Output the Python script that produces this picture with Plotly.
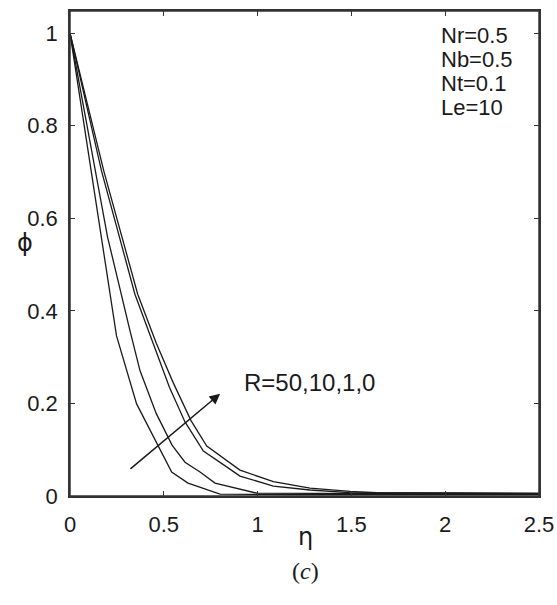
import plotly.graph_objects as go

# ---- data ----
eta_R50 = [0.0, 0.248, 0.355, 0.542, 0.629, 0.80, 1.2, 2.5]
phi_R50 = [1.0, 0.346, 0.199, 0.052, 0.028, 0.004, 0.003, 0.003]

eta_R10 = [0.0, 0.2, 0.32, 0.373, 0.46, 0.544, 0.613, 0.693, 0.773, 0.997, 2.5]
phi_R10 = [1.0, 0.56, 0.357, 0.271, 0.178, 0.110, 0.073, 0.052, 0.028, 0.006, 0.004]

eta_R1 = [0.0, 0.169, 0.346, 0.45, 0.53, 0.613, 0.711, 0.835, 0.906, 1.084, 1.279, 1.49, 2.5]
phi_R1 = [1.0, 0.701, 0.436, 0.32, 0.235, 0.160, 0.097, 0.063, 0.043, 0.0215, 0.013, 0.0075, 0.005]

eta_R0 = [0.0, 0.181, 0.361, 0.46, 0.55, 0.645, 0.729, 0.853, 0.906, 1.084, 1.279, 1.493, 1.635, 2.5]
phi_R0 = [1.0, 0.701, 0.436, 0.33, 0.245, 0.163, 0.108, 0.071, 0.056, 0.031, 0.017, 0.010, 0.007, 0.006]

x_ticks = [0, 0.5, 1, 1.5, 2, 2.5]
x_tick_labels = ["0", "0.5", "1", "1.5", "2", "2.5"]
y_ticks = [0, 0.2, 0.4, 0.6, 0.8, 1]
y_tick_labels = ["0", "0.2", "0.4", "0.6", "0.8", "1"]

param_lines = ["Nr=0.5", "Nb=0.5", "Nt=0.1", "Le=10"]
param_y = [0.996, 0.944, 0.892, 0.840]
arrow_tail = (0.314, 0.056)
arrow_head = (0.80, 0.221)
arrow_label = "R=50,10,1,0"
arrow_label_pos = (0.917, 0.245)

series = [(eta_R50, phi_R50), (eta_R10, phi_R10), (eta_R1, phi_R1), (eta_R0, phi_R0)]

W, H = 557, 605
l, r, t, b = 70, 18, 11, 109
pw, ph = W - l - r, H - t - b

def px_to_paper(px, py):
    return (px - l) / pw, (H - b - py) / ph

fig = go.Figure()
for ex, py in series:
    fig.add_trace(go.Scatter(x=ex, y=py, mode="lines",
                             line=dict(color="#1a1a1a", width=1.3),
                             showlegend=False, hoverinfo="skip"))

font_main = "Liberation Sans, Arial, sans-serif"
axis_common = dict(
    showline=True, linecolor="#333333", linewidth=1.5, mirror="ticks",
    ticks="inside", ticklen=5, tickwidth=1, tickcolor="#333333",
    showgrid=False, zeroline=False, automargin=False,
    tickfont=dict(family=font_main, size=22, color="#1a1a1a"),
)

fig.update_layout(
    width=W, height=H,
    margin=dict(l=l, r=r, t=t, b=b, autoexpand=False),
    paper_bgcolor="white", plot_bgcolor="white",
    xaxis=dict(range=[0, 2.5], tickvals=x_ticks, ticktext=x_tick_labels,
               ticklabelstandoff=8, **axis_common),
    yaxis=dict(range=[0, 1.048], tickvals=y_ticks, ticktext=y_tick_labels,
               ticklabelstandoff=6, **axis_common),
)

annotations = []
for txt, yy in zip(param_lines, param_y):
    annotations.append(dict(x=1.968, y=yy, xref="x", yref="y", text=txt,
                            showarrow=False, xanchor="left", yanchor="middle",
                            font=dict(family=font_main, size=22, color="#1a1a1a")))
annotations.append(dict(x=arrow_head[0], y=arrow_head[1], ax=arrow_tail[0], ay=arrow_tail[1],
                        xref="x", yref="y", axref="x", ayref="y", text="",
                        showarrow=True, arrowhead=2, arrowsize=1.4, arrowwidth=1.5,
                        arrowcolor="#1a1a1a"))
annotations.append(dict(x=arrow_label_pos[0], y=arrow_label_pos[1], xref="x", yref="y",
                        text=arrow_label, showarrow=False, xanchor="left", yanchor="middle",
                        font=dict(family=font_main, size=24, color="#1a1a1a")))

phx, phy = px_to_paper(15, 243)
annotations.append(dict(x=phx, y=phy, xref="paper", yref="paper", text="ϕ", showarrow=False,
                        font=dict(family="DejaVu Sans, sans-serif", size=24, color="#1a1a1a")))
etx, ety = px_to_paper(305, 553)
annotations.append(dict(x=etx, y=ety, xref="paper", yref="paper", text="η", showarrow=False,
                        font=dict(family="DejaVu Sans, sans-serif", size=24, color="#1a1a1a")))
cx, cy = px_to_paper(305, 586)
annotations.append(dict(x=cx, y=cy, xref="paper", yref="paper", text="(<i>c</i>)", showarrow=False,
                        font=dict(family="Liberation Serif, Times New Roman, serif", size=24, color="#1a1a1a")))
fig.update_layout(annotations=annotations)

# frame
fig.add_shape(type="rect", xref="paper", yref="paper", x0=0, y0=0, x1=1, y1=1,
              line=dict(color="#333333", width=1.5), layer="above")

fig.write_html("out.html",
               config={"displayModeBar": False},
               post_script="document.body.style.margin='0';document.body.style.overflow='hidden';")
